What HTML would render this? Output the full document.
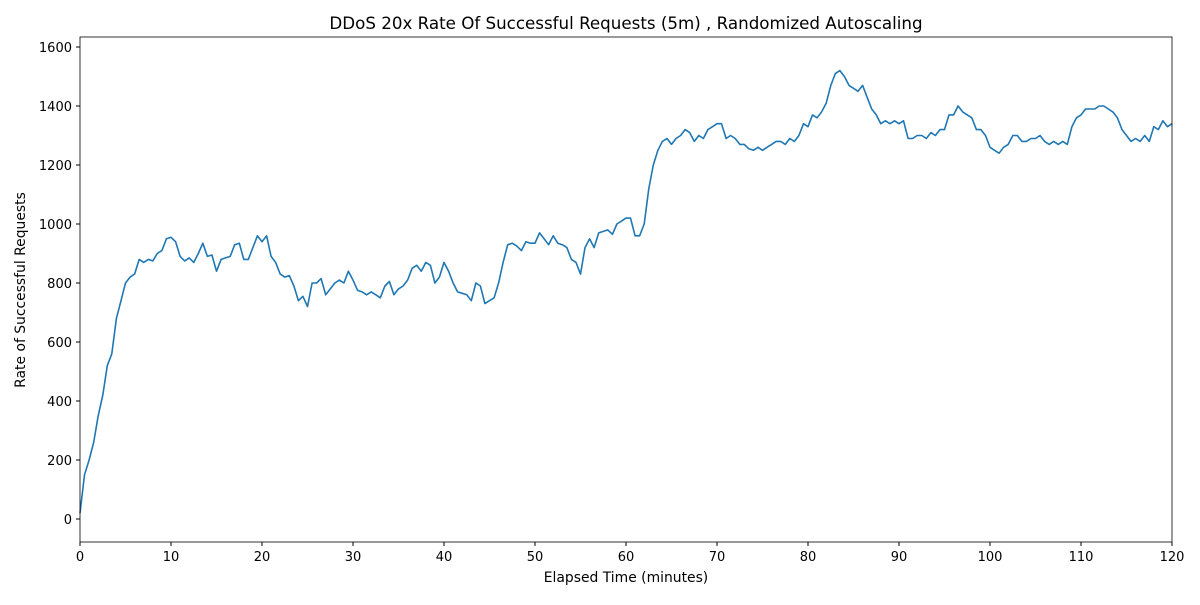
<!DOCTYPE html>
<html><head><meta charset="utf-8"><style>
body{margin:0;background:#fff;}
svg text{font-family:"DejaVu Sans","Liberation Sans",sans-serif;fill:#000;}
</style></head><body>
<svg id="chart" width="1200" height="600" xmlns="http://www.w3.org/2000/svg">
<rect width="1200" height="600" fill="#fff"/>
<text x="626" y="29" font-size="16.7" text-anchor="middle">DDoS 20x Rate Of Successful Requests (5m) , Randomized Autoscaling</text>
<text x="626" y="582" font-size="13.9" text-anchor="middle">Elapsed Time (minutes)</text>
<text x="25" y="290" font-size="13.9" text-anchor="middle" transform="rotate(-90 25 290)">Rate of Successful Requests</text>
<g id="ticks"></g>
<path id="series" fill="none" stroke="#1f77b4" stroke-width="1.6" stroke-linejoin="round"/>
<rect x="80" y="37" width="1092" height="505" fill="none" stroke="#000" stroke-width="0.8"/>
</svg>
<script>
const xTicks=[0,10,20,30,40,50,60,70,80,90,100,110,120];
const yTicks=[0,200,400,600,800,1000,1200,1400,1600];
const timeStep=0.5;
const rateValues=[20,150,200,260,350,420,520,560,680,740,800,820,830,880,870,880,875,900,910,950,955,940,890,875,885,870,900,935,890,895,840,880,885,890,930,935,880,880,920,960,940,960,890,870,830,820,825,790,740,755,720,800,800,815,760,780,800,810,800,840,810,775,770,760,770,760,750,790,805,760,780,790,810,850,860,840,870,860,800,820,870,840,800,770,765,760,740,800,790,730,740,750,800,870,930,935,925,910,940,935,935,970,950,930,960,935,930,920,880,870,830,920,950,920,970,975,980,965,1000,1010,1020,1020,960,960,1000,1120,1200,1250,1280,1290,1270,1290,1300,1320,1310,1280,1300,1290,1320,1330,1340,1340,1290,1300,1290,1270,1270,1255,1250,1260,1250,1260,1270,1280,1280,1270,1290,1280,1300,1340,1330,1370,1360,1380,1410,1470,1510,1520,1500,1470,1460,1450,1470,1430,1390,1370,1340,1350,1340,1350,1340,1350,1290,1290,1300,1300,1290,1310,1300,1320,1320,1370,1370,1400,1380,1370,1360,1320,1320,1300,1260,1250,1240,1260,1270,1300,1300,1280,1280,1290,1290,1300,1280,1270,1280,1270,1280,1270,1330,1360,1370,1390,1390,1390,1400,1400,1390,1380,1360,1320,1300,1280,1290,1280,1300,1280,1330,1320,1350,1330,1340];
const X0=80,X1=1172,Y0=519,YS=472/1600;
function xs(v){return X0+(X1-X0)*v/120;}
function ys(v){return Y0-v*YS;}
const NS="http://www.w3.org/2000/svg";
const g=document.getElementById('ticks');
xTicks.forEach(t=>{
  const l=document.createElementNS(NS,'line');
  
  
  l.setAttribute('x1',xs(t));l.setAttribute('x2',xs(t));l.setAttribute('y1',542);l.setAttribute('y2',546);l.setAttribute('stroke','#000');
  g.appendChild(l);
  const tx=document.createElementNS(NS,'text');
  
  
  tx.setAttribute('x',xs(t));tx.setAttribute('y',561);tx.setAttribute('font-size','13');tx.setAttribute('text-anchor','middle');
  tx.textContent=t;g.appendChild(tx);
});
yTicks.forEach(t=>{
  const l=document.createElementNS(NS,'line');
  
  
  l.setAttribute('x1',76);l.setAttribute('x2',80);l.setAttribute('y1',ys(t));l.setAttribute('y2',ys(t));l.setAttribute('stroke','#000');
  g.appendChild(l);
  const tx=document.createElementNS(NS,'text');
  
  
  tx.setAttribute('x',72);tx.setAttribute('y',ys(t)+5);tx.setAttribute('font-size','13');tx.setAttribute('text-anchor','end');
  tx.textContent=t;g.appendChild(tx);
});
document.getElementById('series').setAttribute('d',rateValues.map((v,i)=>(i?'L':'M')+xs(i*timeStep).toFixed(1)+','+ys(v).toFixed(1)).join(''));
</script>
</body></html>
